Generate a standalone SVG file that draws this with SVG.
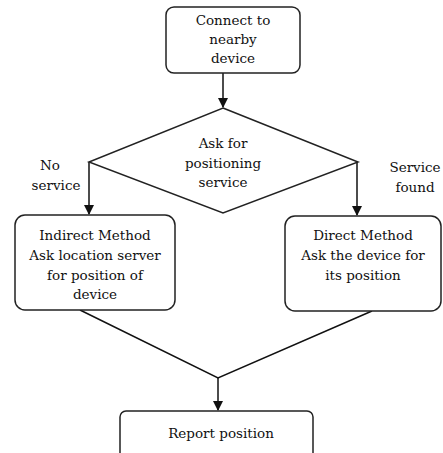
<svg xmlns="http://www.w3.org/2000/svg" width="443" height="453" viewBox="0 0 443 453">
<style>
.box{fill:#fff;stroke:#222;stroke-width:1.5}
.ln{fill:none;stroke:#111;stroke-width:1.5}
.t{font-family:"DejaVu Serif",serif;font-size:13.5px;fill:#111;text-anchor:middle}
</style>
<defs>
<marker id="ah" markerWidth="10" markerHeight="10" refX="9" refY="5" orient="auto" markerUnits="userSpaceOnUse">
<path d="M0,0 L10,5 L0,10 z" fill="#111"/>
</marker>
</defs>
<rect width="443" height="453" fill="#fff"/>
<g id="connectors">
<line class="ln" x1="223" y1="73" x2="223" y2="107" marker-end="url(#ah)"/>
<line class="ln" x1="89" y1="162" x2="89" y2="214" marker-end="url(#ah)"/>
<line class="ln" x1="357" y1="162" x2="357" y2="215" marker-end="url(#ah)"/>
<polyline class="ln" points="80,310 218,378 372,311"/>
<line class="ln" x1="218" y1="378" x2="218" y2="410" marker-end="url(#ah)"/>
<text class="t" x="50" y="170">No</text>
<text class="t" x="56" y="190">service</text>
<text class="t" x="415" y="172">Service</text>
<text class="t" x="415" y="192">found</text>
</g>
<g id="connect">
<rect class="box" x="166" y="7" width="134" height="66" rx="8"/>
<text class="t" x="233" y="25">Connect to</text>
<text class="t" x="233" y="44">nearby</text>
<text class="t" x="233" y="63">device</text>
</g>
<g id="ask">
<polygon class="box" points="223,108 358,162 223,213 89,162"/>
<text class="t" x="223" y="148">Ask for</text>
<text class="t" x="223" y="168">positioning</text>
<text class="t" x="223" y="187">service</text>
</g>
<g id="indirect">
<rect class="box" x="15" y="215" width="160" height="95" rx="10"/>
<text class="t" x="95" y="240">Indirect Method</text>
<text class="t" x="95" y="260">Ask location server</text>
<text class="t" x="95" y="280">for position of</text>
<text class="t" x="95" y="299">device</text>
</g>
<g id="direct">
<rect class="box" x="285" y="216" width="156" height="95" rx="10"/>
<text class="t" x="363" y="240">Direct Method</text>
<text class="t" x="363" y="260">Ask the device for</text>
<text class="t" x="363" y="280">its position</text>
</g>
<g id="report">
<rect class="box" x="120" y="411" width="193" height="50" rx="6"/>
<text class="t" x="221" y="438">Report position</text>
</g>
</svg>
